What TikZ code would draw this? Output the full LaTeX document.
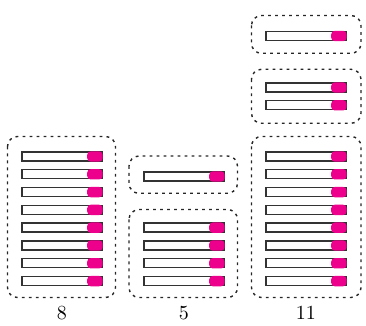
\documentclass[tikz,border=0pt]{standalone}
\usepackage{xcolor}
\definecolor{mag}{RGB}{236,0,140}
\begin{document}
\begin{tikzpicture}[x=0.5pt,y=-0.5pt,
  barbody/.style={draw=black!80,line width=0.7pt,fill=white,minimum width=40pt,minimum height=4.5pt,inner sep=0pt,outer sep=0pt},
  knob/.style={fill=mag,rounded corners=1.8pt,minimum width=7.75pt,minimum height=5.2pt,inner sep=0pt,outer sep=0pt,anchor=east},
  groupbox/.style={draw=black!85,line width=0.7pt,dash pattern=on 1.4pt off 2.1pt,rounded corners=5pt},
  lbl/.style={inner sep=0pt}]
\useasboundingbox (0,0) rectangle (366,326);

% column 1
\foreach \k [evaluate=\k as \yy using 156.5+17.8*\k] in {0,...,7} {
  \node[barbody] (a\k) at (62,\yy) {};
  \node[knob] (ak\k) at ([xshift=0.35pt]a\k.east) {};
}
\draw[groupbox] (7.5,136.5) rectangle (115.5,297.5);
\node[lbl] (la) at (62,313) {8};

% column 2
\node[barbody] (btop) at (184,176.5) {};
\node[knob] (bktop) at ([xshift=0.35pt]btop.east) {};
\foreach \k [evaluate=\k as \yy using 156.5+17.8*\k] in {4,...,7} {
  \node[barbody] (b\k) at (184,\yy) {};
  \node[knob] (bk\k) at ([xshift=0.35pt]b\k.east) {};
}
\draw[groupbox] (129,156) rectangle (237.5,193.3);
\draw[groupbox] (129,209.5) rectangle (237.5,297.5);
\node[lbl] (lb) at (184,313) {5};

% column 3
\node[barbody] (ctop) at (306,36) {};
\node[knob] (cktop) at ([xshift=0.35pt]ctop.east) {};
\node[barbody] (cm1) at (306,87.5) {};
\node[knob] (ckm1) at ([xshift=0.35pt]cm1.east) {};
\node[barbody] (cm2) at (306,105.3) {};
\node[knob] (ckm2) at ([xshift=0.35pt]cm2.east) {};
\foreach \k [evaluate=\k as \yy using 156.5+17.8*\k] in {0,...,7} {
  \node[barbody] (c\k) at (306,\yy) {};
  \node[knob] (ck\k) at ([xshift=0.35pt]c\k.east) {};
}
\draw[groupbox] (251.5,15.5) rectangle (361,53.3);
\draw[groupbox] (251.5,69.3) rectangle (361,123.3);
\draw[groupbox] (251.5,136.5) rectangle (361,297.5);
\node[lbl] (lc) at (306,313) {11};
\end{tikzpicture}
\end{document}
